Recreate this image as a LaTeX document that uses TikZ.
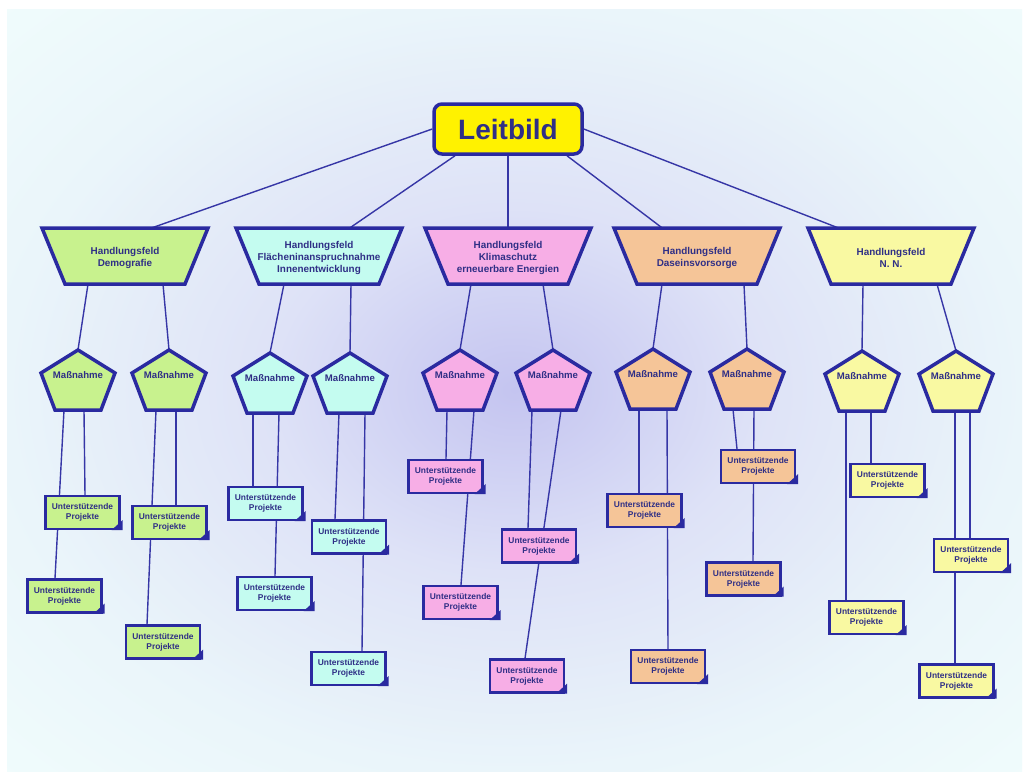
\documentclass[tikz,border=0pt]{standalone}
\usepackage{fontspec}
\setmainfont{Liberation Sans}
\usetikzlibrary{backgrounds}

\definecolor{randblau}{RGB}{42,42,160}
\definecolor{linie}{RGB}{54,54,166}
\definecolor{schrift}{RGB}{47,47,134}
\definecolor{gruen}{RGB}{200,242,142}
\definecolor{tuerkis}{RGB}{196,252,240}
\definecolor{rosa}{RGB}{247,174,230}
\definecolor{orange}{RGB}{245,197,152}
\definecolor{hellgelb}{RGB}{249,249,162}
\definecolor{innen}{RGB}{196,196,240}
\definecolor{mitte}{RGB}{222,226,247}
\definecolor{rand2}{RGB}{234,245,250}
\definecolor{aussen}{RGB}{240,252,252}
\pgfdeclareradialshading{hintergrund}{\pgfpoint{0bp}{0bp}}{%
    color(0bp)=(innen); color(12bp)=(mitte); color(25bp)=(rand2);
    color(36bp)=(aussen); color(50bp)=(aussen)}

% Handlungsfeld: name, x, y, fill, text
\newcommand{\feld}[5]{%
    \filldraw[rand, fill=#4] (#2-83,#3-28) -- (#2+83,#3-28)
        -- (#2+60,#3+28) -- (#2-60,#3+28) -- cycle;
    \node[feldbox] (#1) at (#2,#3) {};
    \node[feldtext] (#1t) at (#2,#3+2) {#5};
}
% Massnahme: name, x, y, fill
\newcommand{\massn}[4]{%
    \filldraw[rand, fill=#4] (#2,#3-30) -- (#2+37,#3-7) -- (#2+23,#3+30)
        -- (#2-23,#3+30) -- (#2-37,#3-7) -- cycle;
    \node[massbox] (#1) at (#2,#3) {};
    \node[masstext] (#1t) at (#2,#3-5) {Maßnahme};
}
% Projekt: name, x, y, fill
\newcommand{\projekt}[4]{%
    \node[projbox, fill=#4] (#1) at (#2,#3) {Unterstützende\\Projekte};
    \fill[randblau] ([xshift=-9pt]#1.south east) -- ([xshift=2pt]#1.south east)
        -- ([xshift=2pt,yshift=10pt]#1.south east) -- cycle;
}

\begin{document}
\begin{tikzpicture}[
    x=1pt, y=-1pt,
    rand/.style={draw=randblau, line width=3.5pt},
    leit/.style={rectangle, rounded corners=8pt, draw=randblau,
        line width=3.5pt, fill=yellow, minimum width=148, minimum height=50,
        text=schrift, font=\fontsize{28}{30}\selectfont\bfseries},
    feldbox/.style={minimum width=166, minimum height=56, inner sep=0pt},
    feldtext/.style={inner sep=0pt, align=center, text=schrift,
        font=\fontsize{9.9}{12}\selectfont\bfseries},
    massbox/.style={minimum width=74, minimum height=60, inner sep=0pt},
    masstext/.style={inner sep=0pt, text=schrift,
        font=\fontsize{9.6}{11}\selectfont\bfseries},
    projbox/.style={rectangle, draw=randblau, line width=2.2pt,
        minimum width=74, minimum height=33, inner sep=0pt, align=center,
        text=schrift, font=\fontsize{8.4}{10}\selectfont\bfseries},
    verb/.style={draw=linie, line width=1.4pt},
    ]
    \useasboundingbox (0,0) rectangle (1029,779);
    \begin{scope}[on background layer]
        \fill[white] (0,0) rectangle (1029,779);
        \shade[shading=hintergrund] (7,9) rectangle (1022,771);
    \end{scope}

    \node[leit] (lb) at (508,129) {Leitbild};

    \feld{hf1}{125}{256}{gruen}{Handlungsfeld\\Demografie}
    \feld{hf2}{319}{256}{tuerkis}{Handlungsfeld\\Flächeninanspruchnahme\\Innenentwicklung}
    \feld{hf3}{508}{256}{rosa}{Handlungsfeld\\Klimaschutz\\erneuerbare Energien}
    \feld{hf4}{697}{256}{orange}{Handlungsfeld\\Daseinsvorsorge}
    \feld{hf5}{891}{256}{hellgelb}{Handlungsfeld\\N. N.}

    \massn{m11}{78}{380}{gruen}
    \massn{m12}{169}{380}{gruen}
    \massn{m21}{270}{383}{tuerkis}
    \massn{m22}{350}{383}{tuerkis}
    \massn{m31}{460}{380}{rosa}
    \massn{m32}{553}{380}{rosa}
    \massn{m41}{653}{379}{orange}
    \massn{m42}{747}{379}{orange}
    \massn{m51}{862}{381}{hellgelb}
    \massn{m52}{956}{381}{hellgelb}

    \projekt{p111}{82.5}{512.5}{gruen}
    \projekt{p112}{64.5}{596}{gruen}
    \projekt{p121}{169.5}{522.5}{gruen}
    \projekt{p122}{163}{642}{gruen}
    \projekt{p211}{265.5}{503.5}{tuerkis}
    \projekt{p212}{274.5}{593.5}{tuerkis}
    \projekt{p221}{349}{537}{tuerkis}
    \projekt{p222}{348.5}{668.5}{tuerkis}
    \projekt{p311}{445.5}{476.5}{rosa}
    \projekt{p312}{460.5}{602.5}{rosa}
    \projekt{p321}{539}{546}{rosa}
    \projekt{p322}{527}{676}{rosa}
    \projekt{p411}{644.5}{510.5}{orange}
    \projekt{p412}{668}{666.5}{orange}
    \projekt{p421}{758}{466.5}{orange}
    \projekt{p422}{743.5}{579}{orange}
    \projekt{p511}{887.5}{480.5}{hellgelb}
    \projekt{p512}{866.5}{617.5}{hellgelb}
    \projekt{p521}{971}{555.5}{hellgelb}
    \projekt{p522}{956.5}{681}{hellgelb}

    \begin{scope}[on background layer]
        % Leitbild -> Handlungsfelder
        \draw[verb] (lb.west) -- ([xshift=27pt]hf1.north);
        \draw[verb] ([xshift=-53pt]lb.south) -- ([xshift=31pt]hf2.north);
        \draw[verb] (lb.south) -- (hf3.north);
        \draw[verb] ([xshift=59pt]lb.south) -- ([xshift=-35pt]hf4.north);
        \draw[verb] (lb.east) -- ([xshift=-53pt]hf5.north);
        % Handlungsfelder -> Massnahmen
        \draw[verb] ([xshift=-37pt]hf1.south) -- (m11.north);
        \draw[verb] ([xshift=38pt]hf1.south) -- (m12.north);
        \draw[verb] ([xshift=-35pt]hf2.south) -- (m21.north);
        \draw[verb] ([xshift=32pt]hf2.south) -- (m22.north);
        \draw[verb] ([xshift=-37pt]hf3.south) -- (m31.north);
        \draw[verb] ([xshift=35pt]hf3.south) -- (m32.north);
        \draw[verb] ([xshift=-35pt]hf4.south) -- (m41.north);
        \draw[verb] ([xshift=47pt]hf4.south) -- (m42.north);
        \draw[verb] ([xshift=-28pt]hf5.south) -- (m51.north);
        \draw[verb] ([xshift=46pt]hf5.south) -- (m52.north);
        % Massnahmen -> Projekte
        \draw[verb] ([xshift=6pt]m11.south) -- ([xshift=2.5pt]p111.north);
        \draw[verb] ([xshift=-14pt]m11.south) -- ([xshift=-9.5pt]p112.north);
        \draw[verb] ([xshift=7pt]m12.south) -- ([xshift=6.5pt]p121.north);
        \draw[verb] ([xshift=-13pt]m12.south) -- ([xshift=-16pt]p122.north);
        \draw[verb] ([xshift=-17pt]m21.south) -- ([xshift=-12.5pt]p211.north);
        \draw[verb] ([xshift=9pt]m21.south) -- ([xshift=0.5pt]p212.north);
        \draw[verb] ([xshift=-11pt]m22.south) -- ([xshift=-14pt]p221.north);
        \draw[verb] ([xshift=15pt]m22.south) -- ([xshift=13.5pt]p222.north);
        \draw[verb] ([xshift=-13pt]m31.south) -- ([xshift=0.5pt]p311.north);
        \draw[verb] ([xshift=14pt]m31.south) -- ([xshift=0.5pt]p312.north);
        \draw[verb] ([xshift=-21pt]m32.south) -- ([xshift=-11pt]p321.north);
        \draw[verb] ([xshift=8pt]m32.south) -- ([xshift=-2pt]p322.north);
        \draw[verb] ([xshift=-14pt]m41.south) -- ([xshift=-5.5pt]p411.north);
        \draw[verb] ([xshift=14pt]m41.south) -- (p412.north);
        \draw[verb] ([xshift=-14pt]m42.south) -- ([xshift=-21pt]p421.north);
        \draw[verb] ([xshift=7pt]m42.south) -- ([xshift=9.5pt]p422.north);
        \draw[verb] ([xshift=9pt]m51.south) -- ([xshift=-16.5pt]p511.north);
        \draw[verb] ([xshift=-16pt]m51.south) -- ([xshift=-20.5pt]p512.north);
        \draw[verb] ([xshift=14pt]m52.south) -- ([xshift=-1pt]p521.north);
        \draw[verb] ([xshift=-1pt]m52.south) -- ([xshift=-1.5pt]p522.north);
    \end{scope}
\end{tikzpicture}
\end{document}
